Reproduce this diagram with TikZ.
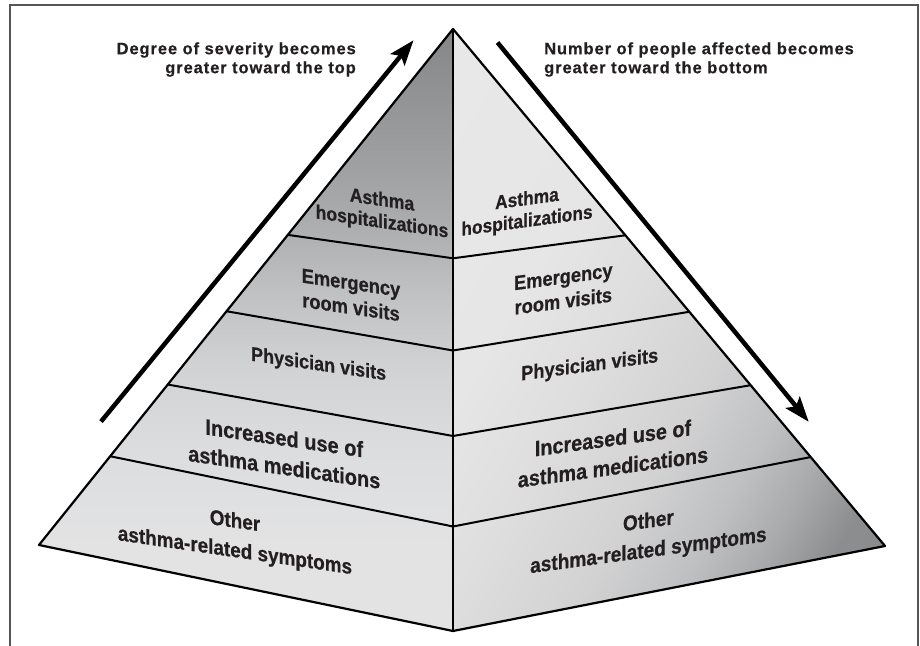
\documentclass[tikz,border=0pt]{standalone}
\usepackage{fontspec}
\setmainfont{Liberation Sans}
\newfontfamily\hdrfont[LetterSpace=5.5,BoldFeatures={FakeBold=0.4}]{Liberation Sans}
\newfontfamily\lblfont[BoldFeatures={FakeBold=0.6}]{Liberation Sans}
\usetikzlibrary{arrows.meta,calc}
\definecolor{txt}{HTML}{231F20}
\definecolor{frame}{HTML}{555555}
\definecolor{lA}{HTML}{E5E5E6}
\definecolor{lB}{HTML}{E3E3E4}
\definecolor{lC}{HTML}{DCDDDF}
\definecolor{lD}{HTML}{D1D2D3}
\definecolor{lE}{HTML}{C0C1C3}
\definecolor{lF}{HTML}{A8A9AB}
\definecolor{lG}{HTML}{858688}
\definecolor{rA}{HTML}{858688}
\definecolor{rB}{HTML}{8C8D8F}
\definecolor{rC}{HTML}{A9AAAC}
\definecolor{rD}{HTML}{BFC0C2}
\definecolor{rE}{HTML}{D2D2D3}
\definecolor{rF}{HTML}{DEDEDF}
\definecolor{rG}{HTML}{E6E6E7}
\definecolor{rH}{HTML}{EAEAEB}
\pgfdeclareverticalshading{lface}{100bp}{color(0bp)=(lA); color(32bp)=(lB); color(40bp)=(lC); color(47bp)=(lD); color(53bp)=(lE); color(60bp)=(lF); color(75bp)=(lG); color(100bp)=(lG)}
\pgfdeclareverticalshading{rface}{100bp}{color(0bp)=(rA); color(24bp)=(rB); color(30bp)=(rC); color(36bp)=(rD); color(44bp)=(rE); color(55bp)=(rF); color(65bp)=(rG); color(100bp)=(rH)}
\begin{document}
\begin{tikzpicture}[x=1pt,y=1pt,
  edge/.style={line width=2.2pt, line join=round, draw=black},
  layer/.style={line width=2pt, draw=black},
  lbl/.style={text=txt, align=center, inner sep=0pt},
  lslant/.style={yslant=-0.145, xscale=0.9},
  rslant/.style={yslant=0.135, xscale=0.9},
  arr/.style={line width=4.5pt, draw=black, -{Stealth[length=25pt,width=18pt,inset=5pt]}},
  hdr/.style={text=txt, inner sep=0pt, font=\hdrfont\bfseries\fontsize{16.5}{19}\selectfont},
]
\useasboundingbox (0,0) rectangle (920,645);
\fill[white] (0,0) rectangle (920,645);
% frame
\draw[draw=frame, line width=1.5pt] (10,-2) -- (10,640) -- (918,640) -- (918,-2);

% pyramid corners
\coordinate (A) at (453,616);
\coordinate (B) at (453,14);
\coordinate (L) at (39,100);
\coordinate (R) at (885,99);

% faces
\shade[shading=lface] (A) -- (L) -- (B) -- cycle;
\shade[shading=rface, shading angle=60] (A) -- (B) -- (R) -- cycle;

% layer points
\coordinate (l1) at ($(A)!0.399!(L)$);
\coordinate (l2) at ($(A)!0.547!(L)$);
\coordinate (l3) at ($(A)!0.689!(L)$);
\coordinate (l4) at ($(A)!0.828!(L)$);
\coordinate (r1) at ($(A)!0.399!(R)$);
\coordinate (r2) at ($(A)!0.547!(R)$);
\coordinate (r3) at ($(A)!0.689!(R)$);
\coordinate (r4) at ($(A)!0.828!(R)$);
\coordinate (c1) at (453,386.7);
\coordinate (c2) at (453,294.5);
\coordinate (c3) at (453,209);
\coordinate (c4) at (453,118.5);

\draw[layer] (l1) -- (c1) -- (r1);
\draw[layer] (l2) -- (c2) -- (r2);
\draw[layer] (l3) -- (c3) -- (r3);
\draw[layer] (l4) -- (c4) -- (r4);

% outline
\draw[edge] (A) -- (L) -- (B) -- (R) -- cycle;
\draw[edge] (A) -- (B);

% left labels
\node[lbl, lslant, font=\lblfont\bfseries\fontsize{19.5}{22}\selectfont] (lh) at (382,433) {Asthma\\hospitalizations};
\node[lbl, lslant, font=\lblfont\bfseries\fontsize{20.3}{24.5}\selectfont] (le) at (351,350) {Emergency\\room visits};
\node[lbl, lslant, font=\lblfont\bfseries\fontsize{20}{22}\selectfont] (lp) at (318.6,279.7) {Physician visits};
\node[lbl, lslant, font=\lblfont\bfseries\fontsize{22.2}{29}\selectfont] (li) at (284.3,192.5) {Increased use of\\asthma medications};
\node[lbl, lslant, font=\lblfont\bfseries\fontsize{21}{29.5}\selectfont] (lo) at (235,108) {Other\\asthma-related symptoms};

% right labels
\node[lbl, rslant, font=\lblfont\bfseries\fontsize{19.3}{22}\selectfont] (rh) at (527,434) {Asthma\\hospitalizations};
\node[lbl, rslant, font=\lblfont\bfseries\fontsize{20.3}{24.5}\selectfont] (re) at (563.3,356) {Emergency\\room visits};
\node[lbl, rslant, font=\lblfont\bfseries\fontsize{20.3}{22}\selectfont] (rp) at (589.7,279) {Physician visits};
\node[lbl, rslant, font=\lblfont\bfseries\fontsize{22}{29}\selectfont] (ri) at (613,192.5) {Increased use of\\asthma medications};
\node[lbl, rslant, font=\lblfont\bfseries\fontsize{21.2}{29.5}\selectfont] (ro) at (648.4,108) {Other\\asthma-related symptoms};

% arrows
\coordinate (la1) at (101,223.4);
\coordinate (la2) at (413.5,604.7);
\coordinate (ra1) at (497.5,602.5);
\coordinate (ra2) at (808.7,223.2);
\draw[arr] (la1) -- (la2);
\draw[arr] (ra1) -- (ra2);

% header texts
\node[hdr, anchor=east, align=right] (hl) at (356,585.5) {Degree of severity becomes\\greater toward the top};
\node[hdr, anchor=west, align=left] (hr) at (544,585.5) {Number of people affected becomes\\greater toward the bottom};
\end{tikzpicture}
\end{document}
